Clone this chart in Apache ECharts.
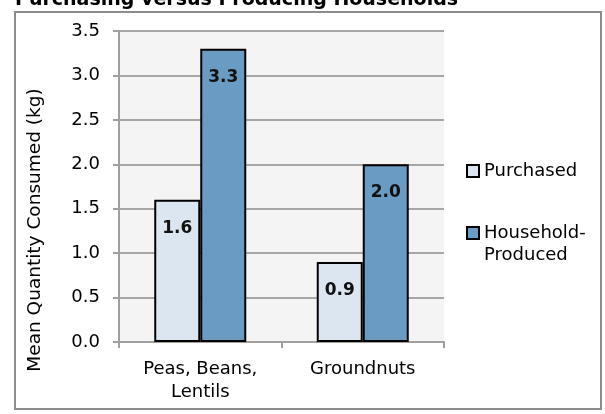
<!DOCTYPE html>
<html>
<head>
<meta charset="utf-8">
<script src="https://cdn.jsdelivr.net/npm/echarts@6/dist/echarts.min.js"></script>
<style>
  html, body { margin: 0; padding: 0; background: #ffffff; }
  #chart { width: 605px; height: 414px; }
</style>
</head>
<body>
<div id="chart"></div>
<script>
// Mean quantity of pulses consumed, by how the household obtained them
const categories = ['Peas, Beans,\nLentils', 'Groundnuts'];
const purchased = [1.6, 0.9];
const householdProduced = [3.3, 2.0];
const seriesNames = ['Purchased', 'Household-\nProduced'];
const yTicks = { min: 0, max: 3.5, interval: 0.5 };
const yTitle = 'Mean Quantity Consumed (kg)';

const FONT = '"DejaVu Sans", Verdana, sans-serif';
const chart = echarts.init(document.getElementById('chart'), null, { renderer: 'canvas' });

const labelStyle = {
  show: true,
  position: 'insideTop',
  distance: 20,
  color: '#111',
  fontWeight: 'bold',
  fontSize: 17,
  fontFamily: FONT,
  formatter: p => p.value.toFixed(1)
};

chart.setOption({
  animation: false,
  backgroundColor: '#ffffff',
  title: {
    text: 'Purchasing versus Producing Households',
    left: 10,
    top: -14,
    textStyle: { fontSize: 19, fontWeight: 'bold', color: '#000', fontFamily: FONT }
  },
  graphic: [
    {
      type: 'rect',
      shape: { x: 15, y: 12, width: 586, height: 397 },
      style: { fill: 'none', stroke: '#8c8c8c', lineWidth: 2 },
      z: -1
    },
    {
      type: 'text',
      x: 35,
      y: 230,
      rotation: Math.PI / 2,
      style: {
        text: yTitle,
        fontSize: 18.5,
        fontFamily: FONT,
        fill: '#000',
        align: 'center',
        verticalAlign: 'middle'
      }
    }
  ],
  grid: {
    left: 119, right: 161, top: 31, bottom: 72,
    show: true, backgroundColor: '#f4f4f4', borderWidth: 0
  },
  legend: {
    orient: 'vertical',
    left: 466,
    top: 160,
    padding: 0,
    itemGap: 18,
    itemWidth: 12,
    itemHeight: 12,
    icon: 'rect',
    textStyle: { fontSize: 18, color: '#000', fontFamily: FONT, lineHeight: 22 },
    // a blank leading line keeps the icon level with the first line of a wrapped name
    formatter: name => (name.indexOf('\n') >= 0 ? ' \n' + name : name),
    data: seriesNames
  },
  xAxis: {
    type: 'category',
    data: categories,
    axisLine: { lineStyle: { color: '#a0a0a0', width: 2 } },
    axisTick: { show: true, alignWithLabel: false, length: 6, lineStyle: { color: '#a0a0a0', width: 2 } },
    axisLabel: { fontSize: 18, color: '#000', fontFamily: FONT, margin: 16, lineHeight: 23 }
  },
  yAxis: {
    type: 'value',
    min: yTicks.min, max: yTicks.max, interval: yTicks.interval,
    axisLine: { show: true, lineStyle: { color: '#a0a0a0', width: 2 } },
    axisTick: { show: true, length: 6, lineStyle: { color: '#a0a0a0', width: 2 } },
    axisLabel: { fontSize: 18, color: '#000', fontFamily: FONT, margin: 19, formatter: v => v.toFixed(1) },
    splitLine: { show: true, lineStyle: { color: '#a6a6a6', width: 2 } }
  },
  series: [
    {
      name: seriesNames[0],
      type: 'bar',
      data: purchased,
      barWidth: 46,
      barGap: '0%',
      itemStyle: { color: '#dce6f0', borderColor: '#000', borderWidth: 2 },
      label: labelStyle
    },
    {
      name: seriesNames[1],
      type: 'bar',
      data: householdProduced,
      barWidth: 46,
      barGap: '0%',
      itemStyle: { color: '#6a9bc3', borderColor: '#000', borderWidth: 2 },
      label: labelStyle
    }
  ]
});
</script>
</body>
</html>
